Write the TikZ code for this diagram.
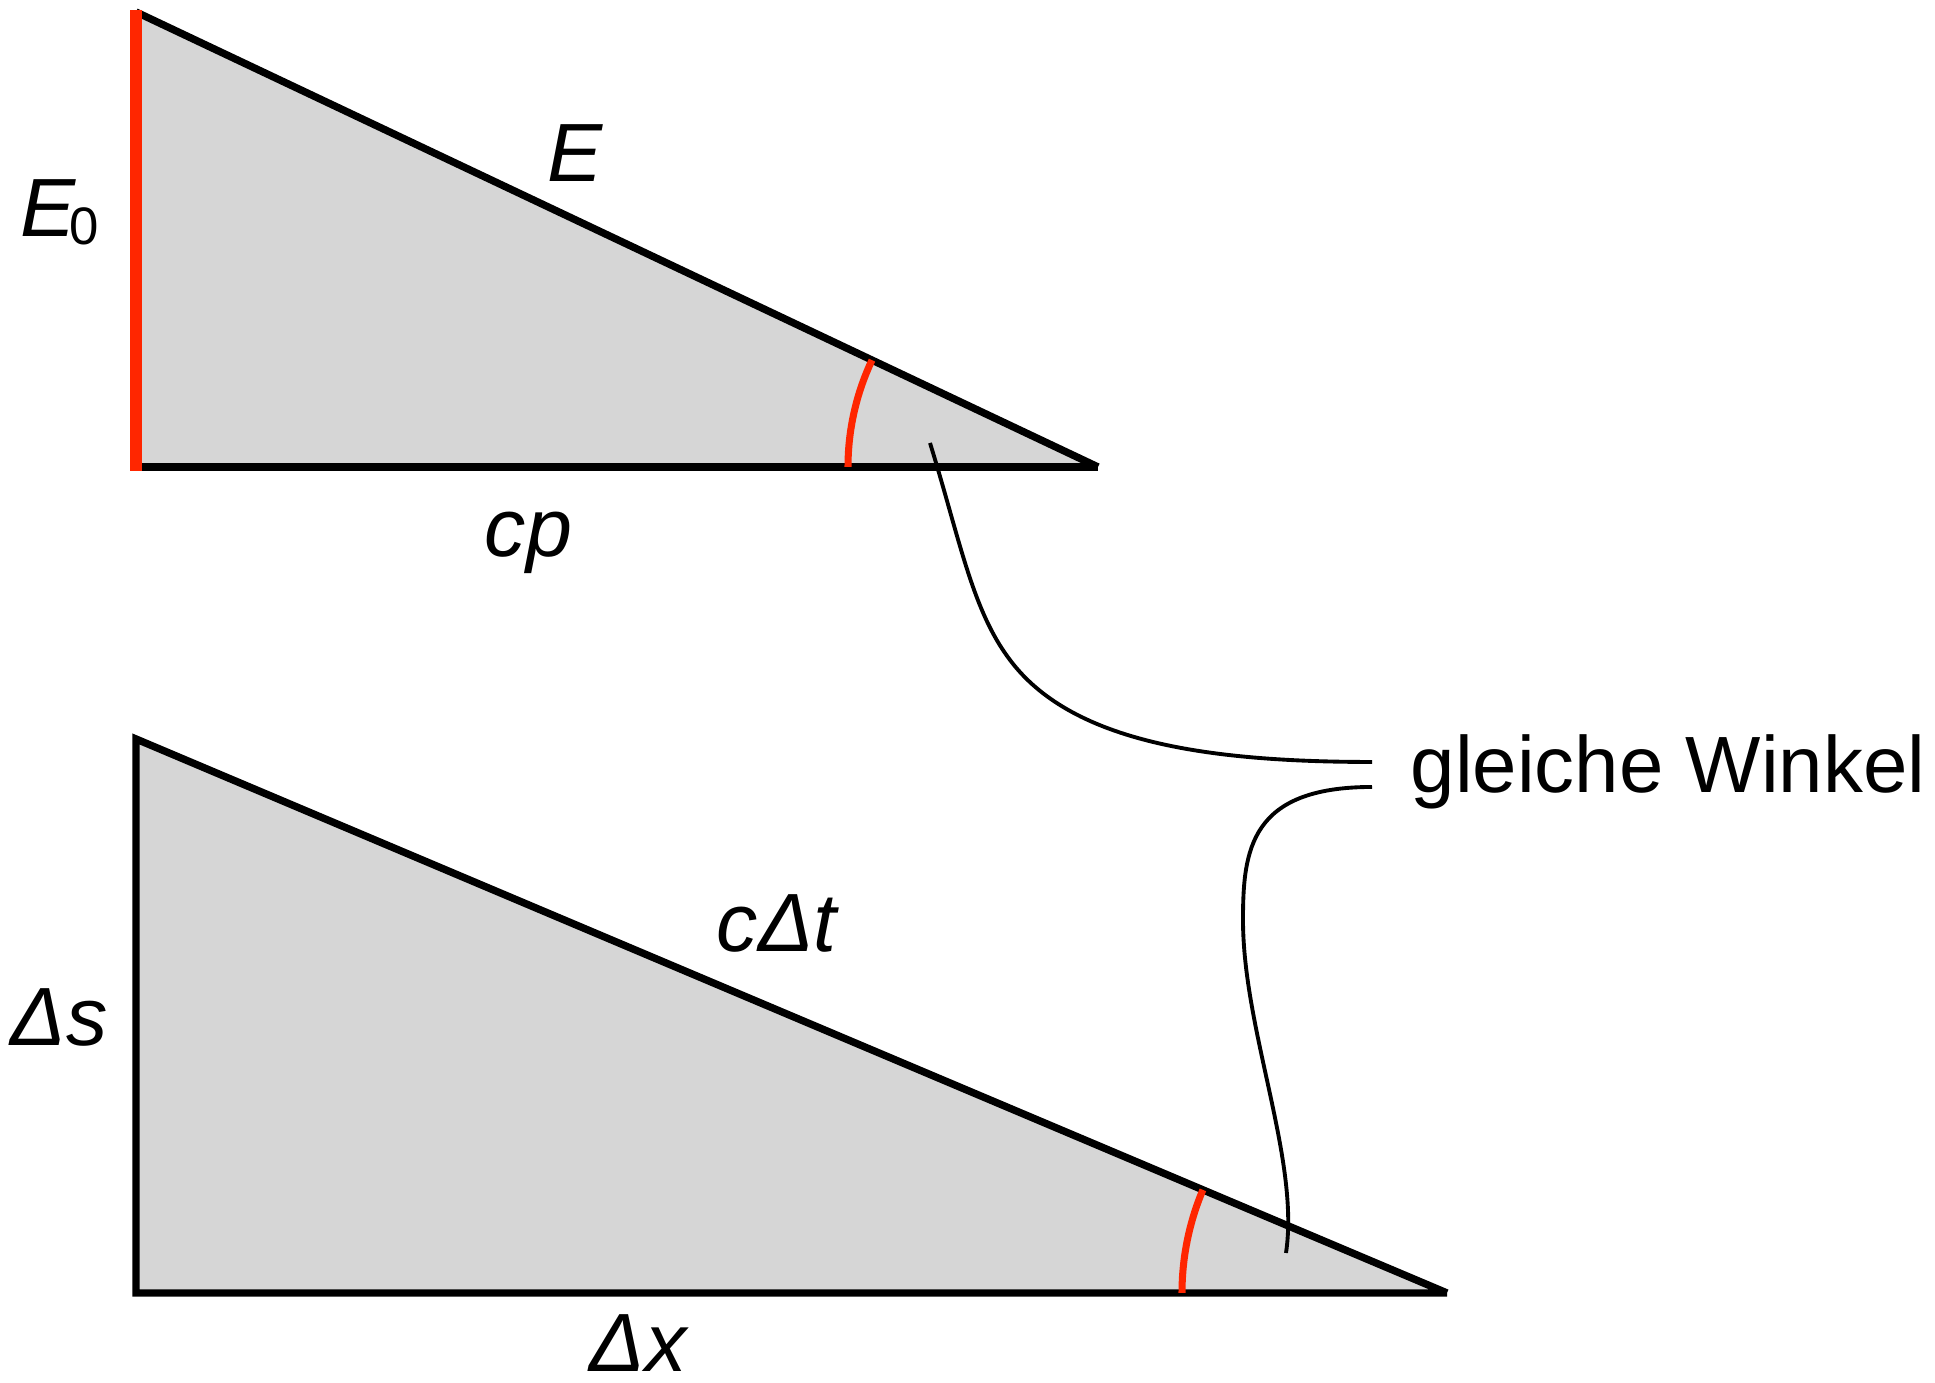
\documentclass[tikz,border=0pt]{standalone}
\usepackage{fontspec}
\setmainfont{Liberation Sans}
\usetikzlibrary{calc}
\definecolor{wedgegray}{HTML}{D6D6D6}
\definecolor{markred}{HTML}{FF2600}
\tikzset{
  wedge/.style={fill=wedgegray, draw=none},
  side/.style={draw=black, line width=2.1pt},
  heightline/.style={draw=markred, line width=3.4pt},
  anglearc/.style={draw=markred, line width=2pt},
  leader/.style={draw=black, line width=1.1pt},
  sidelabel/.style={inner sep=0pt, anchor=base west, font=\fontsize{23.5}{28}\selectfont\itshape},
  note/.style={inner sep=0pt, anchor=base west, font=\fontsize{22.7}{27}\selectfont}
}
\newcommand{\anglemark}[3]{
  \draw[anglearc] ($(#1)+(-#2,0)$) arc (180:#3:#2);
}

\begin{document}
\begin{tikzpicture}[x=0.01cm, y=0.01cm]
\useasboundingbox (0,0) rectangle (1935,1383);
% upper triangle
\coordinate (tA) at (136,1371);
\coordinate (tB) at (136,916);
\coordinate (tC) at (1098,916);
\fill[wedge] (tA) -- (tB) -- (tC) -- cycle;
\draw[side] (tA) -- (tC);
\draw[side] (tB) -- (tC);
\draw[heightline] ($(tA)+(0,2)$) -- ($(tB)+(0,-4)$);
\anglemark{tC}{250}{154.7}
% lower triangle
\coordinate (bA) at (136,644);
\coordinate (bB) at (136,90);
\coordinate (bC) at (1447,90);
\fill[wedge] (bA) -- (bB) -- (bC) -- cycle;
\draw[side] (bC) -- (bA) -- (bB) -- (bC);
\anglemark{bC}{265}{157.1}
% labels
\node[sidelabel] (lblEzero) at (20,1146) {E\kern-0.6mm\raisebox{-0.8mm}{\upshape\fontsize{15}{15}\selectfont 0}};
\node[sidelabel] (lblE) at (547,1201) {E};
\node[sidelabel] (lblcp) at (484,826) {cp};
\node[sidelabel] (lblds) at (10,337) {Δs};
\node[sidelabel] (lblcdt) at (716,431) {cΔt};
\node[sidelabel] (lbldx) at (589,11) {Δx};
\node[note] (winkel) at (1410,590) {gleiche Winkel};
% leaders to the angles
\coordinate (upEnd) at (930,940);
\coordinate (lowEnd) at (1286,130);
\draw[leader] ($(winkel.base west)+(-38,31)$) .. controls (1200,621) and (1070,643) .. (1010,723)
  .. controls (972,773) and (960,843) .. (upEnd);
\draw[leader] ($(winkel.base west)+(-38,6)$) .. controls (1250,596) and (1243,533) .. (1243,463)
  .. controls (1243,353) and (1300,223) .. (lowEnd);
\end{tikzpicture}
\end{document}
